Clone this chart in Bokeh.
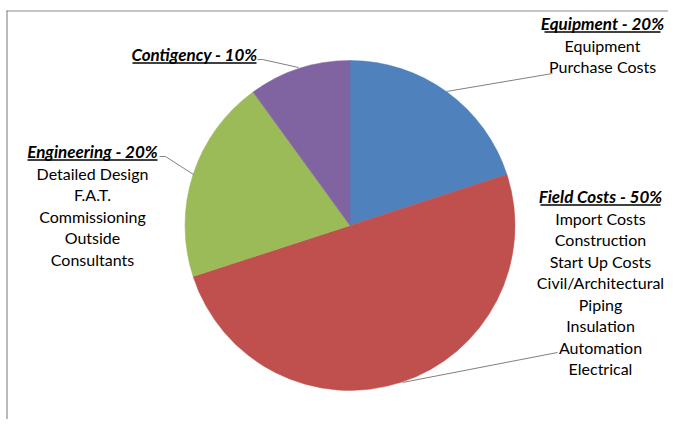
import numpy as np
from bokeh.plotting import figure
from bokeh.models import Range1d, ColumnDataSource
from bokeh.core.properties import value
from bokeh.embed import file_html
from bokeh.resources import INLINE

# ---- data ----
categories = ["Equipment", "Field Costs", "Engineering", "Contigency"]
shares = [20, 50, 20, 10]
colors = ["#4F81BD", "#C0504D", "#9BBB59", "#8064A2"]
items = [
    ["Equipment", "Purchase Costs"],
    ["Import Costs", "Construction", "Start Up Costs", "Civil/Architectural",
     "Piping", "Insulation", "Automation", "Electrical"],
    ["Detailed Design", "F.A.T.", "Commissioning", "Outside", "Consultants"],
    [],
]

# ---- layout (reference pixel coords) ----
W, H = 668, 419
def fx(X): return X
def fy(Y): return H - Y

CX, CY, R = 349.5, 225, 165
# label blocks: header center x, header center y, underline half-width
label_pos = [(602, 23, 58), (600, 196, 60), (92, 151, 65), (194, 54, 62)]
LINE_H = 21.5
# leader lines: (pie end, text end, short horizontal end)
leaders = [
    [(446, 91), (552, 73)],
    [(402, 382), (557, 352)],
    [(193, 174), (165, 156), (159, 156)],
    [(298, 67), (262, 59), (257, 59)],
]

p = figure(width=W, height=H, output_backend="svg", toolbar_location=None,
           x_range=Range1d(0, W), y_range=Range1d(0, H), min_border=0)
p.axis.visible = False
p.grid.visible = False
p.outline_line_color = None
p.background_fill_color = "white"

# border (top and left visible)
p.line([fx(6), W], [fy(10.5), fy(10.5)], line_color="#8C8C8C", line_width=1.2)
p.line([fx(6.5), fx(6.5)], [fy(10), 0], line_color="#8C8C8C", line_width=1.2)

# wedges
total = float(sum(shares))
cum = np.concatenate([[0], np.cumsum(shares)]) / total
starts = np.pi / 2 - 2 * np.pi * cum[:-1]
ends = np.pi / 2 - 2 * np.pi * cum[1:]
src = ColumnDataSource(dict(start=starts, end=ends, color=colors, cat=categories))
p.wedge(x=fx(CX), y=fy(CY), radius=R, start_angle="start", end_angle="end",
        direction="clock", fill_color="color", line_color="color", line_width=0.5,
        source=src)

# leader lines
for pts in leaders:
    p.line([fx(a) for a, b in pts], [fy(b) for a, b in pts],
           line_color="#808080", line_width=1)

FONT = value("Lato")
hx, hy, hs = [], [], []
ux0, ux1, uy = [], [], []
lx, ly, ls = [], [], []
for cat, share, its, (X, Y, hw) in zip(categories, shares, items, label_pos):
    hx.append(fx(X)); hy.append(fy(Y)); hs.append(f"{cat} - {share}%")
    ux0.append(fx(X - hw)); ux1.append(fx(X + hw)); uy.append(fy(Y + 8.5))
    for k, t in enumerate(its):
        lx.append(fx(X)); ly.append(fy(Y + LINE_H * (k + 1))); ls.append(t)

p.text(x=hx, y=hy, text=hs, text_font=FONT, text_font_style="bold italic",
       text_font_size="17px", text_align="center", text_baseline="middle",
       text_color="#000000")
p.segment(x0=ux0, y0=uy, x1=ux1, y1=uy, line_color="#000000", line_width=1.3)
p.text(x=lx, y=ly, text=ls, text_font=FONT, text_font_size="16px",
       text_align="center", text_baseline="middle", text_color="#000000")

open("out.html", "w").write(file_html(p, INLINE))
